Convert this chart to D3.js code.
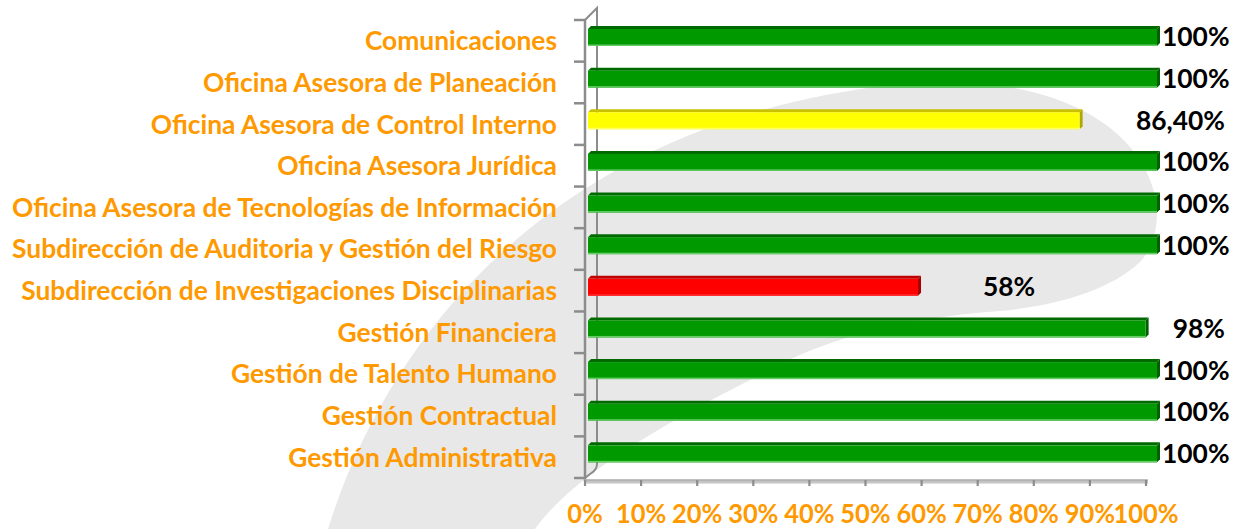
<!DOCTYPE html>
<meta charset="utf-8">
<title>Cumplimiento por dependencia</title>
<script src="https://d3js.org/d3.v7.min.js"></script>
<style>
  body { margin: 0; background: #fff; }
  text { font-family: Lato, 'Open Sans', sans-serif; font-weight: bold; }
  text.cat, text.tick { fill: #ff9900; }
  text.val { fill: #000; }
</style>
<div id="chart"></div>
<script>
// categories, top to bottom
var categories = [
  "Comunicaciones",
  "Oficina Asesora de Planeación",
  "Oficina Asesora de Control Interno",
  "Oficina Asesora Jurídica",
  "Oficina Asesora de Tecnologías de Información",
  "Subdirección de Auditoria y Gestión del Riesgo",
  "Subdirección de Investigaciones Disciplinarias",
  "Gestión Financiera",
  "Gestión de Talento Humano",
  "Gestión Contractual",
  "Gestión Administrativa"
];
var values = [100, 100, 86.4, 100, 100, 100, 58, 98, 100, 100, 100];
var valueLabels = ["100%", "100%", "86,40%", "100%", "100%", "100%", "58%", "98%", "100%", "100%", "100%"];
var ticks = [0, 10, 20, 30, 40, 50, 60, 70, 80, 90, 100];

var W = 1238, H = 529;
var svg = d3.select("#chart").append("svg")
    .attr("width", W)
    .attr("height", H);

// grey swoosh in the background
svg.append("path")
    .attr("d", "M328,529 C390,330 560,120 900,84 C1010,74 1100,100 1140,160 C1165,200 1160,240 1140,262 " +
               "C1110,290 1060,305 1000,311 C900,318 820,340 760,375 C650,430 570,480 535,529 Z")
    .attr("fill", "#e8e8e8");

// scales: axis on the front edge of the floor, bars sit a bit deeper
var xAxis = d3.scaleLinear().domain([0, 100]).range([585, 1146]);
var xBar = d3.scaleLinear().domain([0, 100]).range([588, 1157]);
var y = d3.scaleBand().domain(categories).range([20, 478]).paddingInner(0).paddingOuter(0);
var bw = y.bandwidth();

var axisCol = "#8c8c8c";

// back wall edge
svg.append("path")
    .attr("d", "M585,20 L597,8 L597,464 Q597,470 590,474 L585,478")
    .attr("fill", "none").attr("stroke", axisCol).attr("stroke-width", 2);
// front vertical axis
svg.append("line")
    .attr("x1", 585).attr("x2", 585).attr("y1", 19).attr("y2", 481)
    .attr("stroke", axisCol).attr("stroke-width", 2.5);

// left ticks at band edges
var edges = categories.map(function(c) { return y(c); }).concat([y.range()[1]]);
svg.selectAll("line.ytick").data(edges).enter().append("line")
    .attr("class", "ytick")
    .attr("x1", 574).attr("x2", 585)
    .attr("y1", function(d) { return d; }).attr("y2", function(d) { return d; })
    .attr("stroke", axisCol).attr("stroke-width", 2.5);

// floor front edge
svg.append("rect")
    .attr("x", 584).attr("y", 479.5).attr("width", xAxis(100) - 584 + 2).attr("height", 4)
    .attr("fill", "#c4c4c4");
svg.append("line")
    .attr("x1", 584).attr("x2", xAxis(100) + 2).attr("y1", 480).attr("y2", 480)
    .attr("stroke", "#a0a0a0").attr("stroke-width", 1.2);
svg.selectAll("line.xtick").data(ticks).enter().append("line")
    .attr("class", "xtick")
    .attr("x1", function(d) { return xAxis(d); }).attr("x2", function(d) { return xAxis(d); })
    .attr("y1", 480).attr("y2", 486)
    .attr("stroke", axisCol).attr("stroke-width", 2.2);

// bar colours by value
function colours(v) {
  if (v < 70) return {face: "#ff0000", top: "#c00000", side: "#a80000", low: "#ff3030"};
  if (v < 90) return {face: "#ffff00", top: "#c8c000", side: "#b0a800", low: "#ffff66"};
  return {face: "#009900", top: "#006a00", side: "#006000", low: "#66cc66"};
}

var rows = categories.map(function(c, i) { return {cat: c, v: values[i], lab: valueLabels[i]}; });
var dep = 3;            // 3d depth offset
var gBars = svg.selectAll("g.bar").data(rows).enter().append("g").attr("class", "bar");

gBars.each(function(d) {
  var g = d3.select(this);
  var c = colours(d.v);
  var x0 = xBar(0), x1 = xBar(d.v);
  var top = y(d.cat) + 6;
  var fh = 17;
  // top face
  g.append("path")
      .attr("d", "M" + x0 + "," + (top + dep) + " L" + (x0 + dep) + "," + top +
                 " L" + (x1 + dep) + "," + top + " L" + x1 + "," + (top + dep) + " Z")
      .attr("fill", c.top);
  // side face
  g.append("path")
      .attr("d", "M" + x1 + "," + (top + dep) + " L" + (x1 + dep) + "," + top +
                 " L" + (x1 + dep) + "," + (top + fh) + " L" + x1 + "," + (top + dep + fh) + " Z")
      .attr("fill", c.side);
  // front face
  g.append("rect")
      .attr("x", x0).attr("y", top + dep)
      .attr("width", x1 - x0).attr("height", fh)
      .attr("fill", c.face);
  g.append("rect")
      .attr("x", x0).attr("y", top + dep + fh - 1.5)
      .attr("width", x1 - x0).attr("height", 1.5)
      .attr("fill", c.low);
});

// category labels
var cats = svg.selectAll("text.cat").data(categories).enter().append("text")
    .attr("class", "cat")
    .attr("text-anchor", "end")
    .attr("font-size", 27)
    .attr("x", 557)
    .attr("y", function(d) { return y(d) + bw / 2 + 9.5; })
    .text(function(d) { return d; });

// squeeze text horizontally so the longest label fits its room like the original
var longest = 0;
cats.each(function() { longest = Math.max(longest, this.getComputedTextLength()); });
var k = 545 / longest;
cats.attr("transform", function() {
  var yy = +d3.select(this).attr("y");
  return "translate(557," + yy + ") scale(" + k + ",1) translate(-557," + (-yy) + ")";
});

// value labels
svg.selectAll("text.val").data(rows).enter().append("text")
    .attr("class", "val")
    .attr("font-size", 27)
    .attr("text-anchor", function(d) { return d.v === 100 || d.v < 80 ? "start" : "end"; })
    .attr("x", function(d) {
      if (d.v === 100) return xBar(d.v) + 5;
      if (d.v < 80) return xBar(d.v) + 65;
      return xBar(100) + 68;
    })
    .attr("y", function(d) { return y(d.cat) + 26.5; })
    .attr("transform", function(d) {
      var xx = +d3.select(this).attr("x"), yy = y(d.cat) + 26.5;
      return "translate(" + xx + "," + yy + ") scale(" + k + ",1) translate(" + (-xx) + "," + (-yy) + ")";
    })
    .text(function(d) { return d.lab; });

// x tick labels
var ty = 523;
svg.selectAll("text.tick").data(ticks).enter().append("text")
    .attr("class", "tick")
    .attr("font-size", 26)
    .attr("text-anchor", "middle")
    .attr("x", function(d) { return xAxis(d); })
    .attr("y", ty)
    .attr("transform", function(d) {
      var xx = xAxis(d);
      return "translate(" + xx + "," + ty + ") scale(" + k + ",1) translate(" + (-xx) + "," + (-ty) + ")";
    })
    .text(function(d) { return d + "%"; });
</script>
